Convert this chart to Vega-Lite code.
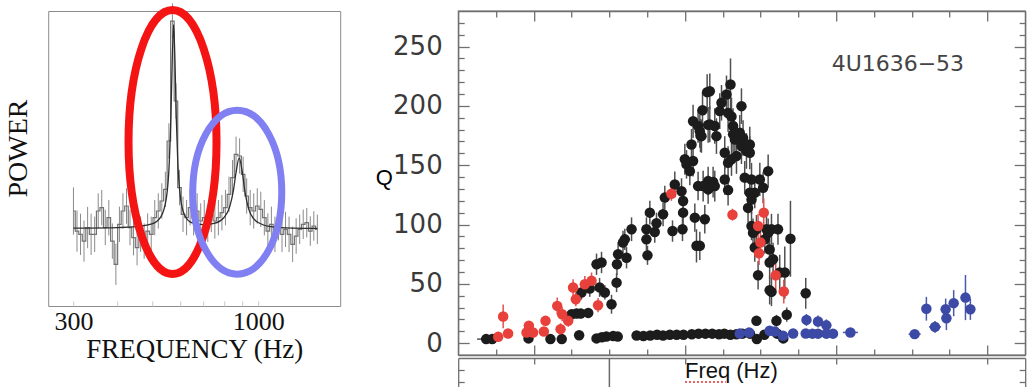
{
  "$schema": "https://vega.github.io/schema/vega-lite/v6.json",
  "background": "white",
  "padding": {"left": 3.2, "top": -7, "right": 0, "bottom": 0},
  "config": {"view": {"stroke": null}, "axis": {"grid": false}},
  "spacing": 33,
  "datasets": {
    "spectrum": [
      {"f":300,"p":1.61,"e":0.4},{"f":307.0,"p":1.27,"e":0.35},{"f":314.1,"p":1.215,"e":0.35},{"f":321.4,"p":1.10,"e":0.35},
      {"f":329.0,"p":1.33,"e":0.35},{"f":336.6,"p":1.215,"e":0.35},{"f":344.5,"p":1.215,"e":0.3},{"f":352.5,"p":1.61,"e":0.3},
      {"f":360.7,"p":1.667,"e":0.3},{"f":369.1,"p":1.33,"e":0.3},{"f":377.7,"p":1.497,"e":0.3},{"f":386.5,"p":1.10,"e":0.3},
      {"f":395.5,"p":0.706,"e":0.35},{"f":404.7,"p":1.384,"e":0.3},{"f":414.1,"p":1.61,"e":0.3},{"f":423.8,"p":1.695,"e":0.3},
      {"f":433.6,"p":1.33,"e":0.3},{"f":443.7,"p":1.158,"e":0.3},{"f":454.1,"p":0.989,"e":0.3},{"f":464.6,"p":1.215,"e":0.3},
      {"f":475.5,"p":1.10,"e":0.3},{"f":486.5,"p":1.27,"e":0.3},{"f":497.9,"p":1.215,"e":0.3},{"f":509.5,"p":1.497,"e":0.3},
      {"f":521.3,"p":1.61,"e":0.3},{"f":533.5,"p":1.78,"e":0.3},{"f":545.9,"p":1.977,"e":0.3},{"f":558.6,"p":2.797,"e":0.3},
      {"f":571.6,"p":4.83,"e":0.3},{"f":584.9,"p":3.475,"e":0.3},{"f":598.6,"p":2.006,"e":0.3},{"f":612.5,"p":1.554,"e":0.3},
      {"f":626.8,"p":1.497,"e":0.3},{"f":641.4,"p":1.667,"e":0.3},{"f":656.3,"p":1.497,"e":0.3},{"f":671.6,"p":1.61,"e":0.3},
      {"f":687.3,"p":1.441,"e":0.3},{"f":703.3,"p":1.497,"e":0.3},{"f":719.6,"p":1.384,"e":0.3},{"f":736.4,"p":1.554,"e":0.3},
      {"f":753.6,"p":1.441,"e":0.3},{"f":771.1,"p":1.497,"e":0.3},{"f":789.1,"p":1.582,"e":0.3},{"f":807.5,"p":1.667,"e":0.3},
      {"f":826.3,"p":1.893,"e":0.3},{"f":845.5,"p":2.175,"e":0.3},{"f":865.2,"p":2.571,"e":0.3},{"f":885.4,"p":2.542,"e":0.3},
      {"f":906.0,"p":2.232,"e":0.3},{"f":927.1,"p":1.864,"e":0.3},{"f":948.7,"p":1.667,"e":0.3},{"f":970.8,"p":1.61,"e":0.3},
      {"f":993.4,"p":1.695,"e":0.3},{"f":1016.5,"p":1.638,"e":0.3},{"f":1040.2,"p":1.497,"e":0.3},{"f":1064.4,"p":1.27,"e":0.3},
      {"f":1089.2,"p":1.384,"e":0.3},{"f":1114.6,"p":1.215,"e":0.3},{"f":1140.6,"p":1.412,"e":0.3},{"f":1167.2,"p":1.215,"e":0.3},
      {"f":1194.3,"p":1.299,"e":0.3},{"f":1222.1,"p":1.215,"e":0.3},{"f":1250.6,"p":1.045,"e":0.3},{"f":1279.7,"p":1.186,"e":0.3},
      {"f":1309.6,"p":1.299,"e":0.25},{"f":1340.0,"p":1.384,"e":0.25},{"f":1371.3,"p":1.412,"e":0.25},{"f":1403.2,"p":1.27,"e":0.25},
      {"f":1435.9,"p":1.356,"e":0.25},{"f":1469.3,"p":1.299,"e":0.25}
    ],
    "fit": [
      {"f":300,"p":1.32},{"f":400,"p":1.33},{"f":450,"p":1.344},{"f":500,"p":1.39},{"f":530,"p":1.51},{"f":550,"p":1.845},
      {"f":560,"p":2.43},{"f":566,"p":3.21},{"f":571,"p":4.18},{"f":576,"p":4.77},{"f":581,"p":4.18},{"f":586,"p":3.21},
      {"f":592,"p":2.43},{"f":602,"p":1.85},{"f":620,"p":1.53},{"f":650,"p":1.41},{"f":700,"p":1.38},{"f":750,"p":1.40},
      {"f":800,"p":1.50},{"f":830,"p":1.68},{"f":850,"p":1.95},{"f":865,"p":2.26},{"f":883,"p":2.51},{"f":900,"p":2.29},
      {"f":918,"p":1.915},{"f":940,"p":1.64},{"f":970,"p":1.48},{"f":1020,"p":1.39},{"f":1100,"p":1.34},{"f":1200,"p":1.325},
      {"f":1470,"p":1.315}
    ],
    "qpo": [
      {"f":537,"q":3.4,"e":2,"xe":12,"s":"L"},{"f":545,"q":3.4,"e":2,"s":"L"},{"f":593,"q":4,"e":2,"s":"L"},{"f":622,"q":3.4,"e":2,"xe":6,"s":"L"},
      {"f":637,"q":3.4,"e":2,"s":"L"},{"f":660,"q":6.7,"e":3,"s":"L"},{"f":683,"q":4,"e":2,"xe":6,"s":"L"},{"f":690,"q":5,"e":2,"s":"L"},
      {"f":696,"q":5.5,"e":2,"s":"L"},{"f":705,"q":6,"e":2,"s":"L"},{"f":711,"q":5.5,"e":2,"s":"L"},{"f":736,"q":6.5,"e":2,"xe":6,"s":"L"},
      {"f":745,"q":6,"e":2,"s":"L"},{"f":754,"q":6.5,"e":2,"s":"L"},{"f":763,"q":7,"e":2,"s":"L"},{"f":771,"q":6.5,"e":2,"s":"L"},
      {"f":780,"q":7,"e":2,"s":"L"},{"f":789,"q":7,"e":2,"s":"L"},{"f":798,"q":7,"e":2,"s":"L"},{"f":809,"q":7.5,"e":2,"s":"L"},
      {"f":818,"q":8,"e":2,"s":"L"},{"f":827,"q":8,"e":2,"s":"L"},{"f":836,"q":8,"e":2,"s":"L"},{"f":845,"q":7.5,"e":2,"s":"L"},
      {"f":852,"q":8,"e":2,"s":"L"},{"f":860,"q":7,"e":2,"s":"L"},{"f":868,"q":7.5,"e":2,"s":"L"},{"f":876,"q":8,"e":2,"s":"L"},
      {"f":886,"q":8,"e":2,"s":"L"},{"f":895,"q":3.4,"e":2,"s":"L"},{"f":905,"q":7,"e":2,"s":"L"},{"f":922,"q":8,"e":2,"s":"L"},
      {"f":930,"q":4,"e":2,"s":"L"},{"f":894.5,"q":18.8,"e":4,"s":"L"},{"f":921,"q":18.8,"e":5,"s":"L"},{"f":934.6,"q":24,"e":6,"s":"L"},
      {"f":959.7,"q":42,"e":13,"s":"L"},{"f":650,"q":24.4,"e":4,"s":"L"},{"f":656.5,"q":25,"e":4,"s":"L"},{"f":662,"q":25,"e":4,"s":"L"},
      {"f":672,"q":25.5,"e":4,"s":"L"},{"f":663,"q":42.7,"e":6,"s":"L"},{"f":674,"q":46,"e":7,"s":"L"},{"f":687,"q":47,"e":8,"s":"L"},
      {"f":683,"q":66.5,"e":9,"s":"L"},{"f":689.6,"q":68,"e":9,"s":"L"},{"f":694,"q":42.7,"e":6,"s":"L"},{"f":702.8,"q":32.8,"e":8,"s":"L"},
      {"f":709.5,"q":51,"e":8,"s":"L"},{"f":710,"q":66.5,"e":9,"s":"L"},{"f":711.5,"q":75,"e":10,"s":"L"},{"f":718,"q":84.8,"e":10,"s":"L"},
      {"f":720.4,"q":87.5,"e":9,"s":"L"},{"f":722.7,"q":72,"e":9,"s":"L"},{"f":729.3,"q":96,"e":10,"s":"L"},{"f":749,"q":96,"e":10,"s":"L"},
      {"f":749,"q":87.5,"e":9,"s":"L"},{"f":750.4,"q":74,"e":8,"s":"L"},{"f":753.5,"q":110,"e":10,"s":"L"},{"f":760,"q":93.7,"e":9,"s":"L"},
      {"f":762.3,"q":101,"e":9,"s":"L"},{"f":771,"q":108.6,"e":10,"s":"L"},{"f":773.3,"q":122.7,"e":10,"s":"L"},{"f":783.5,"q":94.5,"e":9,"s":"L"},
      {"f":786.5,"q":133.8,"e":11,"s":"L"},{"f":795.4,"q":128,"e":11,"s":"L"},{"f":797.5,"q":119.8,"e":11,"s":"L"},{"f":797.5,"q":110,"e":11,"s":"L"},
      {"f":796.7,"q":96,"e":10,"s":"L"},{"f":799.8,"q":155,"e":13,"s":"L"},{"f":802,"q":150.7,"e":12,"s":"L"},{"f":806.4,"q":145,"e":12,"s":"L"},
      {"f":810.7,"q":153.5,"e":13,"s":"L"},{"f":808.6,"q":167.5,"e":13,"s":"L"},{"f":810.7,"q":187,"e":14,"s":"L"},{"f":817.3,"q":183,"e":14,"s":"L"},
      {"f":819.6,"q":178.7,"e":14,"s":"L"},{"f":820.5,"q":175,"e":14,"s":"L"},{"f":823.2,"q":196.4,"e":15,"s":"L"},{"f":829.3,"q":211.6,"e":15,"s":"L"},
      {"f":830.6,"q":184,"e":15,"s":"L"},{"f":817.3,"q":132.4,"e":12,"s":"L"},{"f":813,"q":105.8,"e":12,"s":"L"},{"f":815.2,"q":82,"e":14,"s":"L"},
      {"f":826.2,"q":104.4,"e":12,"s":"L"},{"f":830.6,"q":129.6,"e":12,"s":"L"},{"f":830.6,"q":136.6,"e":12,"s":"L"},{"f":832.8,"q":212.4,"e":15,"s":"L"},
      {"f":824,"q":132.4,"e":13,"s":"L"},{"f":821.8,"q":174.5,"e":14,"s":"L"},{"f":832.8,"q":184.4,"e":15,"s":"L"},{"f":841.6,"q":174.5,"e":15,"s":"L"},
      {"f":846,"q":195.6,"e":15,"s":"L"},{"f":848.3,"q":202.6,"e":15,"s":"L"},{"f":854.9,"q":209.6,"e":16,"s":"L"},{"f":860.2,"q":218,"e":22,"s":"L"},
      {"f":857,"q":194,"e":16,"s":"L"},{"f":861.5,"q":191,"e":16,"s":"L"},{"f":874.7,"q":199.8,"e":15,"s":"L"},{"f":839.4,"q":183,"e":15,"s":"L"},
      {"f":863.6,"q":183,"e":15,"s":"L"},{"f":863.6,"q":176,"e":15,"s":"L"},{"f":866,"q":171.7,"e":15,"s":"L"},{"f":872.5,"q":177.3,"e":15,"s":"L"},
      {"f":876.8,"q":173,"e":15,"s":"L"},{"f":874.7,"q":166,"e":15,"s":"L"},{"f":885.7,"q":167.5,"e":15,"s":"L"},{"f":881.3,"q":162,"e":15,"s":"L"},
      {"f":868.1,"q":157.7,"e":15,"s":"L"},{"f":852.6,"q":160.5,"e":14,"s":"L"},{"f":857,"q":152,"e":14,"s":"L"},{"f":861.5,"q":155,"e":14,"s":"L"},
      {"f":885.7,"q":160.5,"e":14,"s":"L"},{"f":879,"q":139.5,"e":14,"s":"L"},{"f":888,"q":138,"e":14,"s":"L"},{"f":899,"q":138,"e":14,"s":"L"},
      {"f":910,"q":145,"e":14,"s":"L"},{"f":885.7,"q":126.8,"e":13,"s":"L"},{"f":892.3,"q":126.8,"e":13,"s":"L"},{"f":903.3,"q":131,"e":13,"s":"L"},
      {"f":883.4,"q":114,"e":12,"s":"L"},{"f":888,"q":121,"e":12,"s":"L"},{"f":852.6,"q":138,"e":13,"s":"L"},{"f":837.2,"q":135.8,"e":13,"s":"L"},
      {"f":839.4,"q":132.4,"e":13,"s":"L"},{"f":857,"q":129,"e":13,"s":"L"},{"f":819.6,"q":82,"e":12,"s":"L"},{"f":888,"q":98.8,"e":12,"s":"L"},
      {"f":890,"q":93,"e":12,"s":"L"},{"f":894.5,"q":96,"e":12,"s":"L"},{"f":907.8,"q":96,"e":12,"s":"L"},{"f":914.4,"q":96,"e":13,"s":"L"},
      {"f":923,"q":96,"e":13,"s":"L"},{"f":905.5,"q":87.5,"e":12,"s":"L"},{"f":910,"q":93,"e":12,"s":"L"},{"f":892.3,"q":80.6,"e":12,"s":"L"},
      {"f":912,"q":79,"e":14,"s":"L"},{"f":916.5,"q":70.7,"e":14,"s":"L"},{"f":912,"q":68,"e":14,"s":"L"},{"f":896.7,"q":57.2,"e":12,"s":"L"},
      {"f":925.3,"q":59.5,"e":15,"s":"L"},{"f":932,"q":59.5,"e":22,"s":"L"},{"f":912,"q":44.6,"e":12,"s":"L"},{"f":914.4,"q":43.2,"e":12,"s":"L"},
      {"f":939.5,"q":88,"e":32,"s":"L"},
      {"f":552.9,"q":5.3,"e":3,"s":"R"},{"f":559.5,"q":22.5,"e":10,"s":"R"},{"f":566,"q":8.1,"e":3,"s":"R"},{"f":590.4,"q":9,"e":3,"s":"R"},
      {"f":593.5,"q":14.6,"e":4,"s":"R"},{"f":599,"q":9,"e":3,"s":"R"},{"f":613.3,"q":9.8,"e":3,"s":"R"},{"f":615.5,"q":18.8,"e":4,"s":"R"},
      {"f":631,"q":31.4,"e":7,"s":"R"},{"f":635.4,"q":11.8,"e":5,"s":"R"},{"f":637.5,"q":24.4,"e":6,"s":"R"},{"f":645.5,"q":18.8,"e":5,"s":"R"},
      {"f":652,"q":46.9,"e":7,"s":"R"},{"f":655.6,"q":37,"e":6,"s":"R"},{"f":667.5,"q":49.7,"e":7,"s":"R"},{"f":676.4,"q":52.5,"e":7,"s":"R"},
      {"f":685,"q":32,"e":6,"s":"R"},{"f":782,"q":126,"e":6,"s":"R"},{"f":862.8,"q":108.3,"e":5,"s":"R"},{"f":904.2,"q":110,"e":12,"s":"R"},
      {"f":896.7,"q":98.8,"e":10,"s":"R"},{"f":899.8,"q":84.8,"e":10,"s":"R"},{"f":898,"q":75.8,"e":10,"s":"R"},{"f":920,"q":57.2,"e":15,"s":"R"},
      {"f":930.7,"q":43.5,"e":10,"s":"R"},
      {"f":872.5,"q":8.1,"e":2,"xe":6,"s":"U"},{"f":884.8,"q":9,"e":2,"s":"U"},{"f":912,"q":10.4,"e":2,"s":"U"},{"f":918.8,"q":9.8,"e":2,"s":"U"},
      {"f":929.7,"q":6.2,"e":2,"s":"U"},{"f":943,"q":8.1,"e":2,"xe":6,"s":"U"},{"f":959.7,"q":8.1,"e":2,"s":"U"},{"f":968.6,"q":8,"e":2,"s":"U"},
      {"f":976,"q":8,"e":2,"s":"U"},{"f":987,"q":8,"e":2,"xe":6,"s":"U"},{"f":995.8,"q":8,"e":2,"s":"U"},{"f":1018.8,"q":9,"e":2,"xe":10,"s":"U"},
      {"f":960.7,"q":19.6,"e":5,"s":"U"},{"f":976,"q":18.2,"e":5,"s":"U"},{"f":987,"q":15,"e":5,"s":"U"},{"f":1103.8,"q":7.6,"e":2,"xe":8,"s":"U"},
      {"f":1119.3,"q":29,"e":10,"s":"U"},{"f":1130.7,"q":13.7,"e":5,"xe":8,"s":"U"},{"f":1144.8,"q":28.6,"e":9,"s":"U"},{"f":1145.8,"q":21,"e":10,"s":"U"},
      {"f":1155.4,"q":33.7,"e":11,"s":"U"},{"f":1171,"q":38.4,"e":19,"s":"U"},{"f":1177.5,"q":28.6,"e":9,"s":"U"}
    ]
  },
  "hconcat": [
    {
      "width": 292,
      "height": 295,
      "view": {"stroke": "#8c8c8c", "strokeWidth": 1},
      "layer": [
        {
          "data": {"name": "spectrum"},
          "mark": {"type": "errorbar", "color": "#8a8a8a", "thickness": 1},
          "encoding": {
            "x": {"field": "f", "type": "quantitative", "scale": {"type": "log", "domain": [254.5, 1705], "nice": false},
              "axis": {"title": "FREQUENCY (Hz)", "values": [300,400,500,600,700,800,900,1000], "format": "d",
                "labelExpr": "datum.value == 300 || datum.value == 1000 ? datum.label : ''",
                "tickSize": -5, "tickColor": "#c8c8c8", "domain": false, "grid": false,
                "labelFont": "Liberation Serif", "labelFontSize": 26, "labelColor": "#111", "labelPadding": 8,
                "titleFont": "Liberation Serif", "titleFontSize": 27, "titleFontWeight": "normal", "titleColor": "#111", "titlePadding": 2}},
            "y": {"field": "p", "type": "quantitative", "scale": {"domain": [0, 5], "nice": false, "zero": false},
              "axis": {"title": "POWER", "labels": false, "ticks": false, "domain": false, "grid": false,
                "titleFont": "Liberation Serif", "titleFontSize": 28, "titleFontWeight": "normal", "titleColor": "#111", "titlePadding": 16, "titleY": 137}},
            "yError": {"field": "e"}
          }
        },
        {
          "data": {"name": "spectrum"},
          "mark": {"type": "line", "interpolate": "step", "color": "#727272", "strokeWidth": 1.2},
          "encoding": {
            "x": {"field": "f", "type": "quantitative", "scale": {"type": "log", "domain": [254.5, 1705], "nice": false}},
            "y": {"field": "p", "type": "quantitative", "scale": {"domain": [0, 5], "nice": false, "zero": false}}
          }
        },
        {
          "data": {"name": "fit"},
          "mark": {"type": "line", "interpolate": "monotone", "color": "#2e2e2e", "strokeWidth": 1.3},
          "encoding": {
            "x": {"field": "f", "type": "quantitative", "scale": {"type": "log", "domain": [254.5, 1705], "nice": false}},
            "y": {"field": "p", "type": "quantitative", "scale": {"domain": [0, 5], "nice": false, "zero": false}}
          }
        },
        {
          "data": {"values": [{"f": 572, "p": 2.78}]},
          "mark": {"type": "point", "filled": false, "opacity": 1, "color": "#f51414", "strokeWidth": 8, "size": 69696,
            "shape": "M0,-1A0.3333,1,0,1,0,0,1A0.3333,1,0,1,0,0,-1Z"},
          "encoding": {
            "x": {"field": "f", "type": "quantitative", "scale": {"type": "log", "domain": [254.5, 1705], "nice": false}},
            "y": {"field": "p", "type": "quantitative", "scale": {"domain": [0, 5], "nice": false, "zero": false}}
          }
        },
        {
          "data": {"values": [{"f": 872, "p": 1.93}]},
          "mark": {"type": "point", "filled": false, "opacity": 1, "color": "#8080f2", "strokeWidth": 7, "size": 26896,
            "shape": "M0,-1A0.5427,1,0,1,0,0,1A0.5427,1,0,1,0,0,-1Z"},
          "encoding": {
            "x": {"field": "f", "type": "quantitative", "scale": {"type": "log", "domain": [254.5, 1705], "nice": false}},
            "y": {"field": "p", "type": "quantitative", "scale": {"domain": [0, 5], "nice": false, "zero": false}}
          }
        }
      ]
    },
    {
      "spacing": 0,
      "vconcat": [
        {
          "width": 567,
          "height": 344,
          "view": {"stroke": "#707070", "strokeWidth": 1.3},
          "layer": [
            {
              "data": {"name": "qpo"},
              "mark": {"type": "errorbar", "thickness": 1.5},
              "encoding": {
                "x": {"field": "f", "type": "quantitative", "scale": {"domain": [500, 1250], "nice": false, "zero": false},
                  "axis": {"orient": "bottom", "title": null, "labels": false, "values": [550,600,650,700,750,800,850,900,950,1000,1050,1100,1150,1200],
                    "tickSize": {"condition": {"test": "datum.value % 200 === 0", "value": -10}, "value": -6},
                    "tickColor": "#707070", "tickWidth": 1.3, "domainColor": "#707070", "domainWidth": 1.3}},
                "y": {"field": "q", "type": "quantitative", "scale": {"domain": [-10, 280], "nice": false, "zero": false},
                  "axis": {"orient": "left", "title": "Q", "values": [0,10,20,30,40,50,60,70,80,90,100,110,120,130,140,150,160,170,180,190,200,210,220,230,240,250,260,270],
                    "labelExpr": "datum.value % 50 === 0 ? datum.label : ''",
                    "tickSize": {"condition": {"test": "datum.value % 50 === 0", "value": -11}, "value": -6},
                    "tickColor": "#707070", "tickWidth": 1.3, "domainColor": "#707070", "domainWidth": 1.3,
                    "labelFont": "DejaVu Sans", "labelFontSize": 26, "labelColor": "#3a3a3a", "labelPadding": 27,
                    "titleAngle": 0, "titleFont": "Liberation Sans", "titleFontSize": 22, "titleFontWeight": "normal", "titleColor": "#000",
                    "titleX": -83, "titleY": 173, "titleAlign": "left", "titleBaseline": "alphabetic"}},
                "yError": {"field": "e"},
                "color": {"field": "s", "type": "nominal", "scale": {"domain": ["L", "R", "U"], "range": ["#505050", "#e45050", "#4a58ae"]}, "legend": null}
              }
            },
            {
              "data": {"name": "qpo"},
              "transform": [{"filter": "datum.xe > 0"}],
              "mark": {"type": "errorbar", "thickness": 1.5},
              "encoding": {
                "x": {"field": "f", "type": "quantitative", "scale": {"domain": [500, 1250], "nice": false, "zero": false}, "axis": null},
                "xError": {"field": "xe"},
                "y": {"field": "q", "type": "quantitative", "scale": {"domain": [-10, 280], "nice": false, "zero": false}, "axis": null},
                "color": {"field": "s", "type": "nominal", "scale": {"domain": ["L", "R", "U"], "range": ["#505050", "#e45050", "#4a58ae"]}, "legend": null}
              }
            },
            {
              "data": {"name": "qpo"},
              "mark": {"type": "point", "filled": true, "opacity": 1, "size": 110},
              "encoding": {
                "x": {"field": "f", "type": "quantitative", "scale": {"domain": [500, 1250], "nice": false, "zero": false}, "axis": null},
                "y": {"field": "q", "type": "quantitative", "scale": {"domain": [-10, 280], "nice": false, "zero": false}, "axis": null},
                "color": {"field": "s", "type": "nominal", "scale": {"domain": ["L", "R", "U"], "range": ["#1c1c1c", "#e8403a", "#3c4aa6"]}, "legend": null}
              }
            },
            {
              "data": {"values": [{"f": 994, "q": 229, "t": "4U1636−53"}]},
              "mark": {"type": "text", "font": "DejaVu Sans", "fontSize": 22, "color": "#444", "align": "left", "baseline": "alphabetic"},
              "encoding": {
                "x": {"field": "f", "type": "quantitative", "scale": {"domain": [500, 1250], "nice": false, "zero": false},
                  "axis": {"orient": "top", "title": null, "labels": false, "values": [550,600,650,700,750,800,850,900,950,1000,1050,1100,1150,1200],
                    "tickSize": {"condition": {"test": "datum.value % 200 === 0", "value": -10}, "value": -6},
                    "tickColor": "#707070", "tickWidth": 1.3, "domainColor": "#707070", "domainWidth": 1.3}},
                "y": {"field": "q", "type": "quantitative", "scale": {"domain": [-10, 280], "nice": false, "zero": false},
                  "axis": {"orient": "right", "title": null, "labels": false, "values": [0,10,20,30,40,50,60,70,80,90,100,110,120,130,140,150,160,170,180,190,200,210,220,230,240,250,260,270],
                    "tickSize": {"condition": {"test": "datum.value % 50 === 0", "value": -11}, "value": -6},
                    "tickColor": "#707070", "tickWidth": 1.3, "domainColor": "#707070", "domainWidth": 1.3}},
                "text": {"field": "t"}
              }
            }
          ],
          "resolve": {"axis": {"x": "independent", "y": "independent"}, "scale": {"color": "independent"}}
        },
        {
          "width": 567,
          "height": 31,
          "layer": [
            {
              "data": {"values": [{"f": 700}]},
              "mark": {"type": "rule", "color": "#6a6a6a", "strokeWidth": 1.5},
              "encoding": {
                "x": {"field": "f", "type": "quantitative", "scale": {"domain": [500, 1250], "nice": false, "zero": false},
                  "axis": {"orient": "top", "title": null, "labels": false, "values": [600, 800, 1000, 1200], "tickSize": -6,
                    "tickColor": "#707070", "tickWidth": 1.3, "domainColor": "#707070", "domainWidth": 1.3}}
              }
            },
            {
              "data": {"values": [{"f": 800, "q": 263.2, "t": "Freq (Hz)"}]},
              "mark": {"type": "text", "font": "Liberation Sans", "fontSize": 22, "color": "#111", "align": "left", "baseline": "alphabetic"},
              "encoding": {
                "x": {"field": "f", "type": "quantitative", "scale": {"domain": [500, 1250], "nice": false, "zero": false}},
                "y": {"field": "q", "type": "quantitative", "scale": {"domain": [253.9, 280], "nice": false, "zero": false},
                  "axis": {"orient": "left", "title": null, "labels": false, "values": [260, 270], "tickSize": -6,
                    "tickColor": "#707070", "tickWidth": 1.3, "domainColor": "#707070", "domainWidth": 1.3}},
                "text": {"field": "t"}
              }
            },
            {
              "data": {"values": [{"f": 800, "f2": 854, "q": 259.8}]},
              "mark": {"type": "rule", "color": "#e03030", "strokeDash": [2, 2], "strokeWidth": 1.5},
              "encoding": {
                "x": {"field": "f", "type": "quantitative", "scale": {"domain": [500, 1250], "nice": false, "zero": false}},
                "x2": {"field": "f2"},
                "y": {"field": "q", "type": "quantitative", "scale": {"domain": [253.9, 280], "nice": false, "zero": false},
                  "axis": {"orient": "right", "title": null, "labels": false, "values": [260, 270], "tickSize": -6,
                    "tickColor": "#707070", "tickWidth": 1.3, "domainColor": "#707070", "domainWidth": 1.3}}
              }
            }
          ],
          "resolve": {"axis": {"y": "independent"}}
        }
      ]
    }
  ]
}
